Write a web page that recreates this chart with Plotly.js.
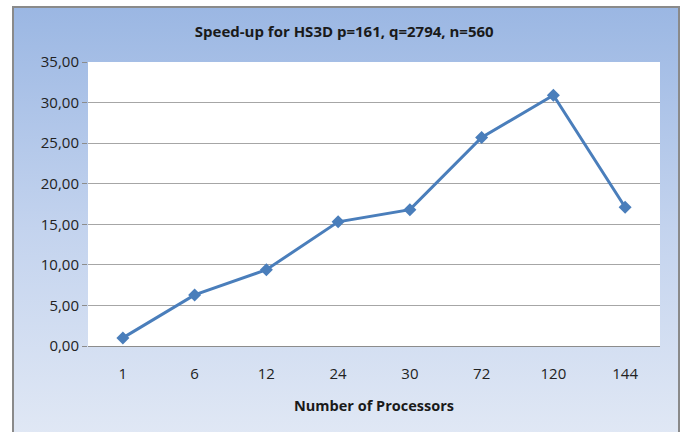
<!DOCTYPE html>
<html>
<head>
<meta charset="utf-8">
<script src="https://cdn.plot.ly/plotly-3.0.1.min.js"></script>
<style>
  html, body { margin: 0; padding: 0; background: #ffffff; width: 683px; height: 432px; overflow: hidden; }
  #bg { position: absolute; left: 12px; top: 6px; width: 664px; height: 440px;
        border: 2px solid #8a8a8a; background: linear-gradient(to bottom, #9bb7e3 0%, #c3d3ee 50%, #e2e9f5 100%); }
  #chart { position: absolute; left: 0; top: 0; width: 683px; height: 432px; }
</style>
</head>
<body>
<div id="bg"></div>
<div id="chart"></div>
<script>
const processors = ["1", "6", "12", "24", "30", "72", "120", "144"];
const speedup = [1.0, 6.3, 9.4, 15.3, 16.8, 25.7, 30.9, 17.1];
const yTicks = [0, 5, 10, 15, 20, 25, 30, 35];

const trace = {
  x: processors,
  y: speedup,
  type: 'scatter',
  mode: 'lines+markers',
  line: { color: '#4a7ebb', width: 3 },
  marker: { symbol: 'diamond', size: 10, color: '#4a7ebb' },
  hoverinfo: 'x+y'
};

const layout = {
  width: 683,
  height: 432,
  margin: { l: 88, r: 23, t: 62, b: 86 },
  paper_bgcolor: 'rgba(0,0,0,0)',
  plot_bgcolor: '#ffffff',
  separators: ',.',
  font: { family: 'Open Sans, sans-serif', color: '#222222', size: 14 },
  title: {
    text: '<b>Speed-up for HS3D p=161, q=2794, n=560</b>',
    font: { family: 'Open Sans, sans-serif', size: 15, color: '#1a1a1a' },
    x: 0.504, xanchor: 'center',
    y: 0.926, yanchor: 'middle'
  },
  xaxis: {
    type: 'category',
    showgrid: false,
    zeroline: false,
    showline: false,
    ticks: '',
    ticklabelstandoff: 17,
    tickfont: { size: 15, color: '#222222' },
    title: { text: '<b>Number of Processors</b>', font: { size: 14.5, color: '#1a1a1a' }, standoff: 18 }
  },
  yaxis: {
    range: [0, 35],
    tickvals: yTicks,
    tickformat: '.2f',
    showgrid: true,
    gridcolor: '#a6a6a6',
    gridwidth: 1,
    zeroline: true,
    zerolinecolor: '#8c8c8c',
    zerolinewidth: 1,
    showline: false,
    ticks: 'outside',
    ticklen: 5,
    tickcolor: '#8c8c8c',
    tickfont: { size: 15, color: '#222222' }
  },
  showlegend: false
};

Plotly.newPlot('chart', [trace], layout, { displayModeBar: false, staticPlot: true });
</script>
</body>
</html>
